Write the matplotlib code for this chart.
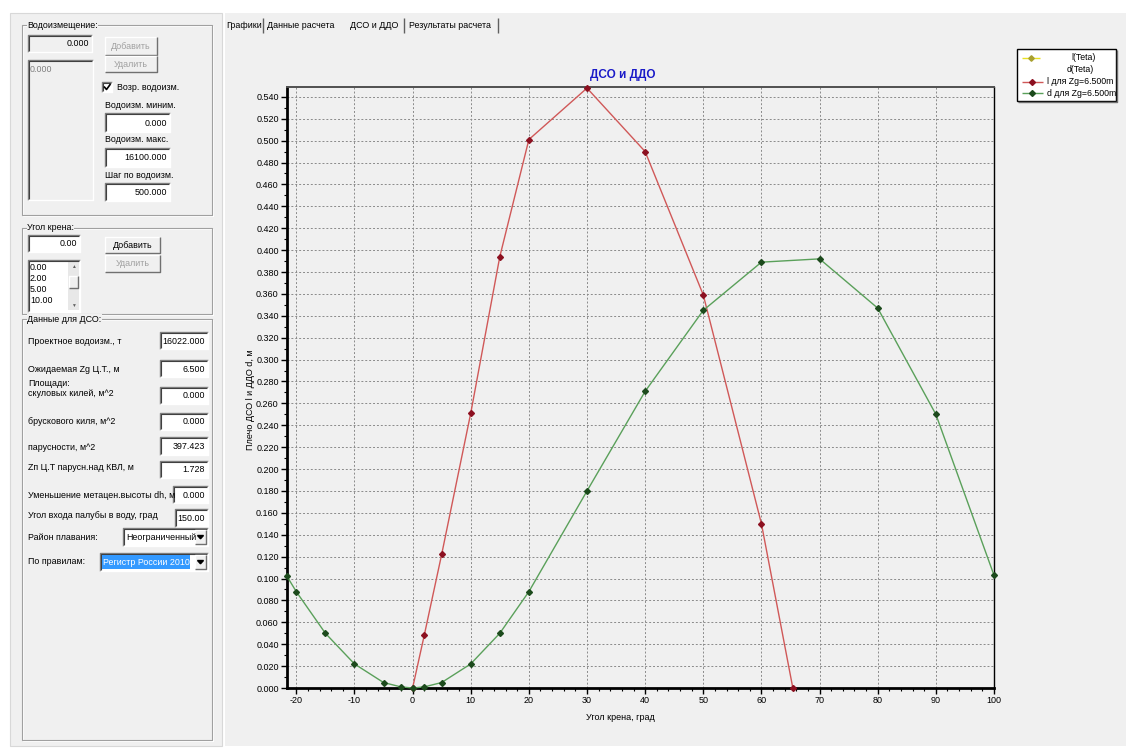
import matplotlib
matplotlib.use('Agg')
import matplotlib.pyplot as plt
from matplotlib.patches import Rectangle, Polygon
from matplotlib.ticker import MultipleLocator, FormatStrFormatter

plt.rcParams['font.family'] = ['Liberation Sans', 'DejaVu Sans']
plt.rcParams['axes.unicode_minus'] = False

W, H = 1126, 751
BG = '#f0f0f0'

# --- chart data ---
theta_l = [0, 2, 5, 10, 15, 20, 30, 40, 50, 60, 65.4]
l_vals = [0.000, 0.048, 0.122, 0.251, 0.394, 0.501, 0.548, 0.490, 0.359, 0.150, 0.000]

theta_d = [-21.6, -20, -15, -10, -5, -2, 0, 2, 5, 10, 15, 20, 30, 40, 50, 60, 70, 80, 90, 100]
d_vals = [0.102, 0.088, 0.050, 0.022, 0.005, 0.001, 0.000, 0.001, 0.005, 0.022, 0.050,
          0.088, 0.180, 0.271, 0.345, 0.389, 0.392, 0.347, 0.250, 0.103]

legend_labels = ['l(Teta)', 'd(Teta)', 'l для Zg=6.500m', 'd для Zg=6.500m']
tab_names = ['Графики', 'Данные расчета', 'ДСО и ДДО', 'Результаты расчета']
heel_list = ['0.00', '2.00', '5.00', '10.00']

# rows of "Данные для ДСО": label, label y, value, box x0, box y0, box y1
dso_rows = [
    ('Проектное водоизм., т', 342, '16022.000', 160, 332, 349),
    ('Ожидаемая Zg Ц.Т., м', 370, '6.500', 160, 360, 377),
    ('скуловых килей, м^2', 394, '0.000', 160, 387, 404),
    ('брускового киля, м^2', 422, '0.000', 160, 413, 430),
    ('парусности, м^2', 447, '397.423', 160, 437, 455),
    ('Zп Ц.Т парусн.над КВЛ, м', 468, '1.728', 160, 461, 478),
    ('Уменьшение метацен.высоты dh, м', 495, '0.000', 173, 486, 503),
    ('Угол входа палубы в воду, град', 516, '150.00', 175, 509, 527),
]

fig = plt.figure(figsize=(W / 100, H / 100), dpi=100)
fig.patch.set_facecolor('white')

# pixel-space axes for the window chrome
ui = fig.add_axes([0, 0, 1, 1], zorder=0)
ui.set_xlim(0, W)
ui.set_ylim(H, 0)
ui.axis('off')

FS = 6.4


def rect(x0, y0, x1, y1, fc, ec='none', lw=0.8, z=1):
    ui.add_patch(Rectangle((x0, y0), x1 - x0, y1 - y0, facecolor=fc,
                           edgecolor=ec, linewidth=lw, zorder=z))


def line(xs, ys, c, lw=0.8, z=2):
    ui.plot(xs, ys, color=c, lw=lw, zorder=z, solid_capstyle='butt')


def txt(x, y, s, ha='left', color='black', size=FS, z=4, **kw):
    ui.text(x, y, s, ha=ha, va='center', fontsize=size, color=color, zorder=z, **kw)


def sunken(x0, y0, x1, y1, fc='white', value=None, vcolor='black'):
    rect(x0, y0, x1, y1, fc)
    line([x0, x0, x1], [y1, y0, y0], '#808080', 1.0)
    line([x0 + 1, x0 + 1, x1 - 1], [y1 - 1, y0 + 1, y0 + 1], '#404040', 0.8)
    line([x0, x1, x1], [y1, y1, y0], '#ffffff', 1.0)
    if value is not None:
        txt(x1 - 3, (y0 + y1) / 2 + 0.5, value, ha='right', color=vcolor)


def button(x0, y0, x1, y1, label, enabled=True):
    rect(x0, y0, x1, y1, BG)
    line([x0, x0, x1], [y1, y0, y0], '#ffffff', 1.0)
    line([x0, x1, x1], [y1, y1, y0], '#707070', 1.0)
    txt((x0 + x1) / 2, (y0 + y1) / 2 + 0.5, label, ha='center',
        color='black' if enabled else '#a0a0a0')


def group(x0, y0, x1, y1, label):
    line([x0, x1, x1, x0, x0], [y0, y0, y1, y1, y0], '#a0a0a0', 0.8)
    line([x0 + 1, x1 + 1, x1 + 1, x0 + 1, x0 + 1], [y0 + 1, y0 + 1, y1 + 1, y1 + 1, y0 + 1], '#ffffff', 0.8, z=1.5)
    ui.text(x0 + 5, y0, label, ha='left', va='center', fontsize=FS, zorder=4,
            bbox=dict(facecolor=BG, edgecolor='none', pad=0.3))


def combo(x0, y0, x1, y1, label, selected=False):
    sunken(x0, y0, x1, y1, 'white')
    if selected:
        rect(x0 + 2, y0 + 2, x1 - 18, y1 - 2, '#3399ff', z=3)
        txt(x0 + 3, (y0 + y1) / 2 + 0.5, label, color='white')
    else:
        txt(x0 + 3, (y0 + y1) / 2 + 0.5, label)
    button(x1 - 13, y0 + 2, x1 - 2, y1 - 2, '')
    cx, cy = x1 - 7.5, (y0 + y1) / 2
    ui.add_patch(Polygon([[cx - 3, cy - 1.5], [cx + 3, cy - 1.5], [cx, cy + 1.8]],
                         closed=True, color='black', zorder=4))


# window background
rect(10, 13, 222, 746, BG, ec='#d8d8d8')
rect(225, 13, W, 746, BG)

# tabs
tab_x = [226, 267, 350, 409]
for name, x in zip(tab_names, tab_x):
    txt(x, 25, name)
for x in [263, 404, 498]:
    line([x, x], [18, 33], '#606060', 1.0)

# group: Водоизмещение
group(22, 25, 212, 215, 'Водоизмещение:')
sunken(28, 35, 92, 52, BG, '0.000')
button(105, 37, 157, 55, 'Добавить', enabled=False)
button(105, 56, 157, 72, 'Удалить', enabled=False)
sunken(28, 60, 93, 200, BG)
txt(30, 70, '0.000', color='#808080')
sunken(102, 82, 112, 92, 'white')
line([104, 106.5, 110.5], [86.5, 89.5, 84], 'black', 1.2, z=5)
txt(117, 87, 'Возр. водоизм.')
txt(105, 105, 'Водоизм. миним.')
sunken(105, 113, 170, 132, 'white', '0.000')
txt(105, 140, 'Водоизм. макс.')
sunken(105, 148, 170, 167, 'white', '16100.000')
txt(105, 175, 'Шаг по водоизм.')
sunken(105, 183, 170, 201, 'white', '500.000')

# group: Угол крена
group(22, 228, 212, 314, 'Угол крена:')
sunken(28, 235, 80, 252, 'white', '0.00')
button(105, 237, 160, 253, 'Добавить', enabled=True)
button(105, 255, 160, 272, 'Удалить', enabled=False)
sunken(28, 260, 80, 312, 'white')
for i, s in enumerate(heel_list):
    txt(30, 267 + i * 11.3, s)
rect(68, 262, 79, 310, '#e8e8e8')
button(69, 276, 78, 288, '')
txt(73.5, 267, '▲', ha='center', size=3.5, color='#606060')
txt(73.5, 305, '▼', ha='center', size=3.5, color='#606060')

# group: Данные для ДСО
group(22, 319, 212, 740, 'Данные для ДСО:')
txt(28, 383, 'Площади:')
for label, ly, val, bx, by0, by1 in dso_rows:
    txt(28, ly, label)
    sunken(bx, by0, 208, by1, 'white', val)
txt(28, 537, 'Район плавания:')
combo(123, 528, 208, 546, 'Неограниченный')
txt(28, 562, 'По правилам:')
combo(100, 553, 208, 571, 'Регистр России 2010', selected=True)

# --- the chart ---
ax = fig.add_axes([287 / W, 1 - 688 / H, (994 - 287) / W, (688 - 87) / H], zorder=2)
ax.set_facecolor(BG)

ax.plot(theta_l, l_vals, color='#d05858', lw=1.0, marker='D', ms=3.0,
        mfc='#8c1020', mec='#8c1020', clip_on=False, zorder=3)
ax.plot(theta_d, d_vals, color='#5aa05a', lw=1.0, marker='D', ms=3.0,
        mfc='#1c4a1c', mec='#1c4a1c', clip_on=False, zorder=3)

ax.set_xlim(-21.6, 100)
ax.set_ylim(0, 0.549)
ax.xaxis.set_major_locator(MultipleLocator(10))
ax.xaxis.set_minor_locator(MultipleLocator(2))
ax.yaxis.set_major_locator(MultipleLocator(0.02))
ax.yaxis.set_minor_locator(MultipleLocator(0.01))
ax.yaxis.set_major_formatter(FormatStrFormatter('%.3f'))

ax.grid(True, which='major', color='#8a8a8a', linestyle=(0, (2, 2)), lw=0.7)
ax.tick_params(which='major', direction='out', length=4, width=1, labelsize=6.5, pad=2)
ax.tick_params(which='minor', direction='out', length=2, width=0.8)

for s in ['left', 'bottom']:
    ax.spines[s].set_linewidth(2)
    ax.spines[s].set_color('black')
ax.spines['top'].set_linewidth(1.4)
ax.spines['top'].set_color('#505050')
ax.spines['right'].set_linewidth(1)
ax.spines['right'].set_linestyle((0, (2, 1)))

ax.set_ylabel('Плечо ДСО l и ДДО d, м', fontsize=6.5)
ax.yaxis.set_label_coords(-0.045, 0.48)
ax.set_xlabel('Угол крена, град', fontsize=6.5)
ax.xaxis.set_label_coords(0.471, -0.042)

fig.text(623 / W, 1 - 75 / H, 'ДСО и ДДО', ha='center', va='center',
         fontsize=8.5, fontweight='bold', color='#1a1ac8')

# legend box
rect(1017, 49, 1116, 101, 'white', ec='black', lw=1.0, z=3)
line([1018, 1117, 1117], [102, 102, 50], '#707070', 1.0, z=3)
leg_y = [58, 70, 82, 93]
leg_x = [1071, 1067, 1047, 1047]
line([1022, 1040], [leg_y[0], leg_y[0]], '#e8e020', 1.0, z=4)
ui.plot([1031], [leg_y[0]], marker='D', ms=2.8, color='#a8a030', zorder=5)
line([1022, 1043], [leg_y[2], leg_y[2]], '#d05858', 1.0, z=4)
ui.plot([1032], [leg_y[2]], marker='D', ms=3.0, color='#8c1020', zorder=5)
line([1022, 1043], [leg_y[3], leg_y[3]], '#5aa05a', 1.0, z=4)
ui.plot([1032], [leg_y[3]], marker='D', ms=3.0, color='#1c4a1c', zorder=5)
for lab, x, y in zip(legend_labels, leg_x, leg_y):
    txt(x, y, lab, size=6.3, z=5)

fig.savefig('out.png', dpi=100, facecolor=fig.get_facecolor())
